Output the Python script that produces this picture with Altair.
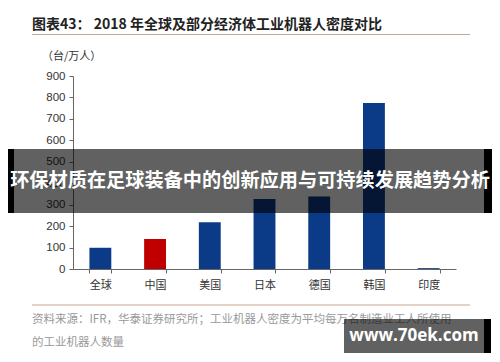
import altair as alt
import pandas as pd

categories = ["全球", "中国", "美国", "日本", "德国", "韩国", "印度"]
values = [99, 140, 218, 327, 338, 774, 4]
colors = ["#0b3a86", "#c00000", "#0b3a86", "#0b3a86", "#0b3a86", "#0b3a86", "#0b3a86"]
y_ticks = [0, 100, 200, 300, 400, 500, 600, 700, 800, 900]

title_text = "图表43：  2018 年全球及部分经济体工业机器人密度对比"
unit_text = "（台/万人）"
source_line1 = "资料来源：IFR，华泰证券研究所；工业机器人密度为平均每万名制造业工人所使用"
source_line2 = "的工业机器人数量"
banner_text = "环保材质在足球装备中的创新应用与可持续发展趋势分析"
watermark_text = "www.70ek.com"

df = pd.DataFrame({"cat": categories, "val": values, "color": colors})
one = alt.Data(values=[{"k": 1}])

W, H = 383, 193
CJK = "Noto Sans CJK SC"

bars = alt.Chart(df).mark_bar().encode(
    x=alt.X("cat:N", sort=categories,
            scale=alt.Scale(paddingInner=0.6, paddingOuter=0.3),
            axis=alt.Axis(title=None, labelAngle=0, tickBand="extent",
                          labelFont=CJK, labelFontSize=11, labelColor="#333",
                          labelPadding=6, domainColor="#666", tickColor="#666",
                          tickSize=4)),
    y=alt.Y("val:Q", scale=alt.Scale(domain=[0, 900], nice=False),
            axis=alt.Axis(title=None, values=y_ticks, grid=False,
                          labelFont="Liberation Sans", labelFontSize=11.5,
                          labelColor="#333", domainColor="#666", tickColor="#666",
                          tickSize=4, labelPadding=4)),
    color=alt.Color("color:N", scale=None),
)

def txt(text, x, y, size, color, weight="normal", align="left", font=CJK):
    return alt.Chart(one).mark_text(
        align=align, baseline="middle", fontSize=size, font=font,
        fontWeight=weight, color=color
    ).encode(x=alt.value(x), y=alt.value(y), text=alt.value(text))

def rect(x1, x2, y1, y2, color, opacity=1.0):
    return alt.Chart(one).mark_rect(color=color, opacity=opacity).encode(
        x=alt.value(x1), x2=alt.value(x2), y=alt.value(y1), y2=alt.value(y2))

def hrule(x1, x2, y, color):
    return alt.Chart(one).mark_rule(color=color, strokeWidth=1.2).encode(
        x=alt.value(x1), x2=alt.value(x2), y=alt.value(y))

layers = [
    bars,
    txt(title_text, -41, -51, 14, "#222", "bold"),
    hrule(-41, 397, -41.5, "#c9a58f"),
    txt(unit_text, -31, -19, 11, "#333"),
    hrule(-41, 397, 229, "#c9a58f"),
    txt(source_line1, -41, 244, 11.5, "#999"),
    txt(source_line2, -41, 267, 11.5, "#999"),
    rect(-80, -59, 73, 137, "#000000"),
    rect(-59, 411, 73, 137, "#000000", 0.62),
    rect(411, 440, 73, 137, "#000000"),
    txt(banner_text, 177, 105, 19.2, "#ffffff", "bold", "center"),
    rect(271, 411, 243, 277, "#000000", 0.62),
    rect(411, 418, 243, 277, "#000000"),
    txt(watermark_text, 341, 260, 17, "#ffffff", "bold", "center", "Open Sans"),
]

chart = alt.layer(*layers).properties(
    width=W, height=H,
    autosize=alt.AutoSizeParams(type="none"),
    padding={"left": 65, "top": 68, "right": 36, "bottom": 85},
    background="white",
).configure_view(strokeWidth=0)

chart.save("out.html", embed_options={"renderer": "svg", "actions": False})
